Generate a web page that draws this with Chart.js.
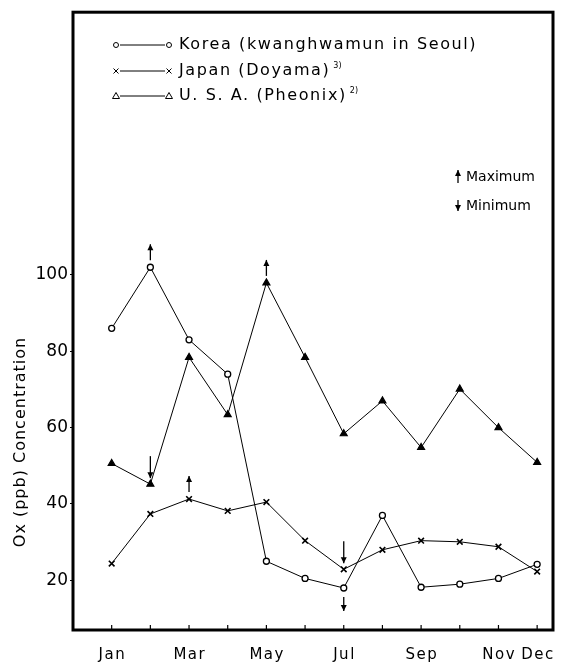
<!DOCTYPE html>
<html>
<head>
<meta charset="utf-8">
<script src="https://cdn.jsdelivr.net/npm/chart.js@4.4.1/dist/chart.umd.min.js"></script>
<style>
  html, body { margin: 0; padding: 0; background: #fff; }
  #wrap { width: 563px; height: 665px; }
</style>
</head>
<body>
<div id="wrap"><canvas id="oxChart" width="563" height="665"></canvas></div>
<script>
// months 1..12, only some get a label
const months = [1, 2, 3, 4, 5, 6, 7, 8, 9, 10, 11, 12];
const monthLabels = ['Jan', '', 'Mar', '', 'May', '', 'Jul', '', 'Sep', '', 'Nov', 'Dec'];
const yTicks = [20, 40, 60, 80, 100];

// Ox concentration (ppb)
const korea = [86, 102, 83, 74, 25, 20.5, 18, 37, 18.2, 19, 20.5, 24.2];
const japan = [24.4, 37.4, 41.3, 38.2, 40.5, 30.4, 22.9, 28, 30.4, 30.1, 28.8, 22.3];
const usa = [50.6, 45.2, 78.4, 63.4, 97.9, 78.4, 58.4, 67, 54.8, 70.1, 60, 50.9];

const seriesNames = ['Korea (kwanghwamun in Seoul)', 'Japan (Doyama)', 'U. S. A. (Pheonix)'];
const seriesNotes = ['', '3)', '2)'];

// max / min marks: [dataset index, month, side]
const maxMarks = [[0, 2, 'above'], [2, 5, 'above'], [1, 3, 'above']];
const minMarks = [[2, 2, 'above'], [1, 7, 'above'], [0, 7, 'below']];

const toPoints = vals => vals.map((v, i) => ({ x: months[i], y: v }));

function arrow(ctx, x, y1, y2) {
    // shaft from y1 to y2, head at y2
    ctx.beginPath();
    ctx.moveTo(x, y1);
    ctx.lineTo(x, y2);
    ctx.stroke();
    const d = y2 > y1 ? -1 : 1;
    ctx.beginPath();
    ctx.moveTo(x, y2);
    ctx.lineTo(x - 3, y2 + d * 6);
    ctx.lineTo(x + 3, y2 + d * 6);
    ctx.closePath();
    ctx.fill();
}

const decorations = {
    id: 'decorations',
    afterDraw(chart) {
        const ctx = chart.ctx;
        const area = chart.chartArea;
        const xs = chart.scales.x;
        const ys = chart.scales.y;
        ctx.save();
        ctx.strokeStyle = '#000';
        ctx.fillStyle = '#000';

        // frame
        ctx.lineWidth = 3;
        ctx.strokeRect(area.left, area.top, area.right - area.left, area.bottom - area.top);

        // inward month ticks
        ctx.lineWidth = 1.2;
        months.forEach(m => {
            const px = xs.getPixelForValue(m);
            ctx.beginPath();
            ctx.moveTo(px, area.bottom);
            ctx.lineTo(px, area.bottom - 5);
            ctx.stroke();
        });

        // max / min arrows
        ctx.lineWidth = 1.3;
        maxMarks.forEach(([ds, m, side]) => {
            const px = xs.getPixelForValue(m);
            const py = ys.getPixelForValue(chart.data.datasets[ds].data[m - 1].y);
            arrow(ctx, px, py - 7, py - 23);
        });
        minMarks.forEach(([ds, m, side]) => {
            const px = xs.getPixelForValue(m);
            const py = ys.getPixelForValue(chart.data.datasets[ds].data[m - 1].y);
            if (side === 'above') arrow(ctx, px, py - 28, py - 6);
            else arrow(ctx, px, py + 9, py + 23);
        });

        // legend
        ctx.font = '16px "DejaVu Sans"';
        ctx.letterSpacing = '1.6px';
        ctx.textBaseline = 'middle';
        ctx.textAlign = 'left';
        const rows = [45, 71, 96];
        chart.data.datasets.forEach((ds, i) => {
            const y = rows[i];
            ctx.lineWidth = 1;
            ctx.beginPath();
            ctx.moveTo(120, y);
            ctx.lineTo(165, y);
            ctx.stroke();
            [116, 169].forEach(mx => {
                ctx.beginPath();
                if (ds.pointStyle === 'circle') {
                    ctx.arc(mx, y, 2.5, 0, Math.PI * 2);
                    ctx.fillStyle = '#fff';
                    ctx.fill();
                    ctx.stroke();
                } else if (ds.pointStyle === 'crossRot') {
                    ctx.moveTo(mx - 2.5, y - 2.5); ctx.lineTo(mx + 2.5, y + 2.5);
                    ctx.moveTo(mx + 2.5, y - 2.5); ctx.lineTo(mx - 2.5, y + 2.5);
                    ctx.stroke();
                } else {
                    ctx.moveTo(mx, y - 3.5); ctx.lineTo(mx + 3.5, y + 2.5); ctx.lineTo(mx - 3.5, y + 2.5);
                    ctx.closePath();
                    ctx.fillStyle = '#fff';
                    ctx.fill();
                    ctx.stroke();
                }
                ctx.fillStyle = '#000';
            });
            ctx.fillText(seriesNames[i], 179, y);
            if (seriesNotes[i]) {
                const w = ctx.measureText(seriesNames[i]).width;
                ctx.font = '8px "DejaVu Sans"';
                ctx.letterSpacing = '0px';
                ctx.fillText(seriesNotes[i], 179 + w + 3, y - 5);
                ctx.font = '16px "DejaVu Sans"';
                ctx.letterSpacing = '1.6px';
            }
        });

        // max / min key
        ctx.font = '14px "DejaVu Sans"';
        ctx.letterSpacing = '0px';
        ctx.lineWidth = 1.3;
        arrow(ctx, 458, 183, 170);
        ctx.fillText('Maximum', 466, 177);
        arrow(ctx, 458, 200, 211);
        ctx.fillText('Minimum', 466, 206);

        // y title
        ctx.save();
        ctx.translate(21, 442);
        ctx.rotate(-Math.PI / 2);
        ctx.textAlign = 'center';
        ctx.font = '16px "DejaVu Sans"';
        ctx.letterSpacing = '1px';
        ctx.fillText('Ox (ppb) Concentration', 0, 0);
        ctx.restore();

        ctx.restore();
    }
};

const ctx = document.getElementById('oxChart').getContext('2d');
const oxChart = new Chart(ctx, {
    type: 'line',
    data: {
        datasets: [{
            label: seriesNames[0],
            data: toPoints(korea),
            pointStyle: 'circle',
            pointRadius: 3,
            pointBackgroundColor: '#fff',
            borderColor: '#000',
            borderWidth: 1,
            pointBorderWidth: 1.3
        }, {
            label: seriesNames[1],
            data: toPoints(japan),
            pointStyle: 'crossRot',
            pointRadius: 4,
            borderColor: '#000',
            borderWidth: 1,
            pointBorderWidth: 1.6
        }, {
            label: seriesNames[2],
            data: toPoints(usa),
            pointStyle: 'triangle',
            pointRadius: 4,
            pointBackgroundColor: '#000',
            borderColor: '#000',
            borderWidth: 1,
            pointBorderWidth: 1.2
        }]
    },
    options: {
        responsive: false,
        animation: false,
        devicePixelRatio: 1,
        layout: { padding: { top: 7, right: 10, bottom: 0, left: 0 } },
        elements: { line: { tension: 0 } },
        plugins: { legend: { display: false }, tooltip: { enabled: false } },
        scales: {
            x: {
                type: 'linear',
                min: 0,
                max: 12.41,
                border: { display: false },
                grid: { display: false },
                afterBuildTicks: axis => { axis.ticks = months.map(v => ({ value: v })); },
                afterFit: axis => { axis.height = 35; },
                ticks: {
                    autoSkip: false,
                    maxRotation: 0,
                    padding: 8,
                    color: '#000',
                    font: { family: 'DejaVu Sans', size: 15 },
                    callback: v => monthLabels[v - 1].split('').join('\u200A')
                }
            },
            y: {
                min: 7,
                max: 168.8,
                border: { display: false },
                grid: { drawOnChartArea: false, tickLength: 3, color: '#000' },
                afterBuildTicks: axis => { axis.ticks = yTicks.map(v => ({ value: v })); },
                afterFit: axis => { axis.width = 73; },
                ticks: {
                    padding: 2,
                    color: '#000',
                    font: { family: 'DejaVu Sans', size: 17 }
                }
            }
        }
    },
    plugins: [decorations]
});
</script>
</body>
</html>
